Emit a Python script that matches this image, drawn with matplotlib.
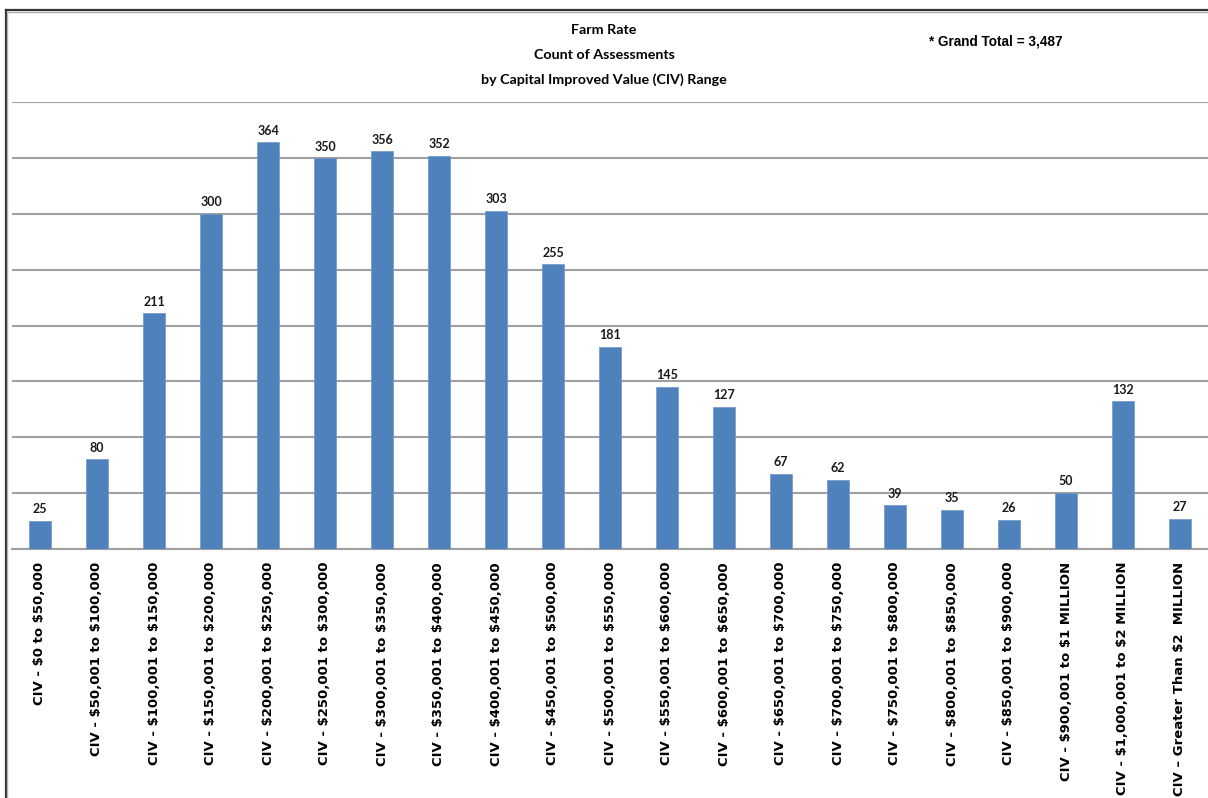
import matplotlib
matplotlib.use("Agg")
import matplotlib.pyplot as plt
from matplotlib.lines import Line2D

plt.rcParams["text.parse_math"] = False

categories = [
    "CIV - $0 to $50,000",
    "CIV - $50,001 to $100,000",
    "CIV - $100,001 to $150,000",
    "CIV - $150,001 to $200,000",
    "CIV - $200,001 to $250,000",
    "CIV - $250,001 to $300,000",
    "CIV - $300,001 to $350,000",
    "CIV - $350,001 to $400,000",
    "CIV - $400,001 to $450,000",
    "CIV - $450,001 to $500,000",
    "CIV - $500,001 to $550,000",
    "CIV - $550,001 to $600,000",
    "CIV - $600,001 to $650,000",
    "CIV - $650,001 to $700,000",
    "CIV - $700,001 to $750,000",
    "CIV - $750,001 to $800,000",
    "CIV - $800,001 to $850,000",
    "CIV - $850,001 to $900,000",
    "CIV - $900,001 to $1 MILLION",
    "CIV - $1,000,001 to $2 MILLION",
    "CIV \u2013 Greater Than $2  MILLION",
]
counts = [25, 80, 211, 300, 364, 350, 356, 352, 303, 255, 181, 145, 127,
          67, 62, 39, 35, 26, 50, 132, 27]
title_lines = ["Farm Rate", "Count of Assessments",
               "by Capital Improved Value (CIV) Range"]
grand_total = "* Grand Total = 3,487"

W, H = 1208, 798
fig = plt.figure(figsize=(W / 100, H / 100), dpi=100)
fig.patch.set_facecolor("white")

# plot area in pixel terms
left_px, right_px = 11.5, 1208.5
top_px, bottom_px = 102.3, 548.7
ax = fig.add_axes([left_px / W, 1 - bottom_px / H,
                   (right_px - left_px) / W, (bottom_px - top_px) / H])

x = list(range(len(categories)))
ax.bar(x, counts, width=0.39, color="#4F81BD", zorder=3,
       edgecolor="#6f97c9", linewidth=0.5)
ax.set_xlim(-0.5, len(categories) - 0.5)
ax.set_ylim(0, 400)
ax.set_yticks(range(0, 401, 50))
ax.yaxis.grid(True, color="#a0a0a0", linewidth=1.5, zorder=0)
ax.set_axisbelow(True)
ax.tick_params(axis="y", left=False, labelleft=False)
ax.tick_params(axis="x", length=0, pad=9.5)
for s in ("left", "right", "top"):
    ax.spines[s].set_visible(False)
ax.spines["bottom"].set_color("#a0a0a0")
ax.spines["bottom"].set_linewidth(1.5)

ax.set_xticks(x)
ax.set_xticklabels(categories, rotation=90, ha="center", va="top",
                   fontsize=9.5, fontweight="bold", family="DejaVu Sans",
                   color="black")

for xi, v in zip(x, counts):
    ax.annotate(str(v), (xi, v), xytext=(0, 4), textcoords="offset points",
                ha="center", va="bottom", fontsize=9, fontweight="bold",
                family=["Lato", "DejaVu Sans"], color="#1a1a1a")

# titles
for i, line in enumerate(title_lines):
    fig.text(604 / W, 1 - (30 + 25 * i) / H, line, ha="center", va="center",
             fontsize=10.3, fontweight="bold", family=["Lato", "DejaVu Sans"],
             color="black")
fig.text(996 / W, 1 - 42 / H, grand_total, ha="center", va="center",
         fontsize=9.8, fontweight="bold",
         family=["Liberation Sans Narrow", "Liberation Sans", "DejaVu Sans"],
         color="black")

# outer frame (top and left edges)
fig.add_artist(Line2D([5.5 / W, 1.0], [1 - 9.5 / H, 1 - 9.5 / H],
                      transform=fig.transFigure, color="#333333", linewidth=1.6))
fig.add_artist(Line2D([5.5 / W, 1.0], [1 - 11.5 / H, 1 - 11.5 / H],
                      transform=fig.transFigure, color="#b0b0b0", linewidth=1.0))
fig.add_artist(Line2D([5.5 / W, 5.5 / W], [0, 1 - 9.5 / H],
                      transform=fig.transFigure, color="#333333", linewidth=1.6))
fig.add_artist(Line2D([7.5 / W, 7.5 / W], [0, 1 - 11.5 / H],
                      transform=fig.transFigure, color="#b0b0b0", linewidth=1.0))

fig.savefig("out.png", dpi=100)
